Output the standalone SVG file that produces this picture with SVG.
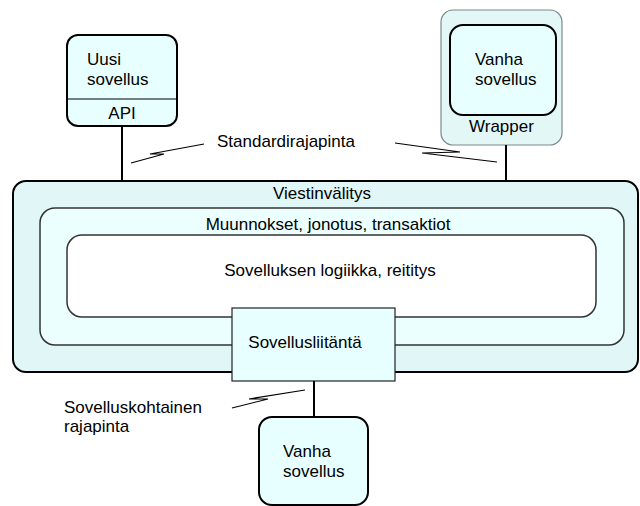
<svg xmlns="http://www.w3.org/2000/svg" width="640" height="506" viewBox="0 0 640 506">
  <style>
    text { font-family: "Liberation Sans", Arial, sans-serif; font-size: 17px; fill: #000; }
    .mid { text-anchor: middle; }
    .node { fill: #e8ffff; stroke: #000; stroke-width: 2; }
    .wrap { fill: #e3f7f7; stroke: #7a8a8a; stroke-width: 1.2; }
    .bus { fill: #e1f6f6; stroke: #000; stroke-width: 2; }
    .layer { fill: #ecffff; stroke: #333; stroke-width: 1.5; }
    .core { fill: #fff; stroke: #333; stroke-width: 1.5; }
    .port { fill: #e8ffff; stroke: #222; stroke-width: 1.2; }
    .wire { fill: none; stroke: #000; stroke-width: 2; }
    .bolt { fill: none; stroke: #000; stroke-width: 1.2; }
  </style>

  <!-- Message-passing backbone with nested layers -->
  <g id="viestinvalitys">
    <rect class="bus" x="13" y="181" width="625" height="191" rx="13"/>
    <text class="mid" x="322" y="199">Viestinvälitys</text>
  </g>
  <g id="muunnokset">
    <rect class="layer" x="40" y="208" width="584" height="137" rx="15"/>
    <text class="mid" x="328" y="230">Muunnokset, jonotus, transaktiot</text>
  </g>
  <g id="logiikka">
    <rect class="core" x="67" y="235" width="529" height="82" rx="15"/>
    <text class="mid" x="330" y="276">Sovelluksen logiikka, reititys</text>
  </g>
  <g id="sovellusliitanta">
    <rect class="port" x="232" y="308" width="163" height="73"/>
    <text class="mid" x="305" y="348">Sovellusliitäntä</text>
  </g>

  <!-- New application with its API -->
  <g id="uusi-sovellus">
    <rect class="node" x="67" y="35" width="110" height="91" rx="11"/>
    <line x1="68" y1="99" x2="176" y2="99" stroke="#000" stroke-width="1"/>
    <text x="87" y="65">Uusi</text>
    <text x="87" y="85">sovellus</text>
    <text class="mid" x="122" y="119">API</text>
  </g>

  <!-- Legacy application inside a wrapper -->
  <g id="wrapper">
    <rect class="wrap" x="441" y="10" width="121" height="135" rx="12"/>
    <rect class="node" x="450" y="25" width="106" height="90" rx="13"/>
    <text x="475" y="65">Vanha</text>
    <text x="475" y="85">sovellus</text>
    <text x="469" y="132">Wrapper</text>
  </g>

  <!-- Legacy application behind the application interface -->
  <g id="vanha-sovellus">
    <rect class="node" x="259" y="417" width="109" height="88" rx="13"/>
    <text x="283" y="457">Vanha</text>
    <text x="283" y="477">sovellus</text>
  </g>

  <!-- Interface labels -->
  <g id="labels">
    <text x="217" y="147">Standardirajapinta</text>
    <text x="64" y="413">Sovelluskohtainen</text>
    <text x="64" y="432">rajapinta</text>
  </g>

  <!-- Connectors and interface bolts -->
  <g id="connectors">
    <line class="wire" x1="122" y1="126" x2="122" y2="181"/>
    <line class="wire" x1="506" y1="145" x2="506" y2="181"/>
    <line class="wire" x1="314" y1="381" x2="314" y2="417"/>
    <polyline class="bolt" points="131,163 164,154 150,154 204,144"/>
    <polyline class="bolt" points="395,143 460,152 422,153 497,162"/>
    <polyline class="bolt" points="232,408 268,399 249,399 305,390"/>
  </g>
</svg>
